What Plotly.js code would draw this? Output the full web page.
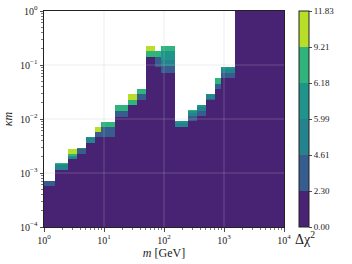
<!DOCTYPE html>
<html><head><meta charset="utf-8">
<script src="https://cdn.plot.ly/plotly-3.0.1.min.js"></script>
<style>html,body{margin:0;padding:0;background:#fff}#chart{width:352px;height:264px}</style>
</head><body><div id="chart"></div>
<script>
// Mass points (GeV)
const masses = [1,2,3,4,6,8,10,20,30,40,60,80,100,200,300,400,600,800,1000,2000,3000,4000,6000,8000,10000];
// Δχ² contour levels and colorbar labels
const levels = [0.00, 2.30, 4.61, 5.99, 6.18, 9.21, 11.83];
const levelLabels = ['0.00','2.30','4.61','5.99','6.18','9.21','11.83'];
// κm at which Δχ² reaches each level, per mass
const km230  = [5.8e-4,1.15e-3,1.82e-3,2.28e-3,3.56e-3,4.56e-3,4.56e-3,1.10e-2,1.82e-2,2.28e-2,0.141,0.091,0.071,7.2e-3,9.0e-3,1.13e-2,2.28e-2,3.6e-2,5.74e-2,1,1,1,1,1,1];
const km461  = [7.0e-4,1.16e-3,1.82e-3,2.82e-3,3.6e-3,5.74e-3,6.98e-3,1.43e-2,1.82e-2,2.88e-2,0.141,0.141,0.094,7.25e-3,1.12e-2,1.43e-2,2.30e-2,4.47e-2,7.2e-2,1,1,1,1,1,1];
const km599  = [7.2e-4,1.40e-3,1.95e-3,2.85e-3,4.4e-3,5.74e-3,6.98e-3,1.43e-2,1.82e-2,2.88e-2,0.141,0.141,0.125,8.5e-3,1.30e-2,1.70e-2,2.75e-2,4.47e-2,8.5e-2,1,1,1,1,1,1];
const km618  = [7.2e-4,1.47e-3,2.03e-3,2.85e-3,4.6e-3,5.74e-3,6.98e-3,1.43e-2,1.82e-2,2.88e-2,0.141,0.141,0.179,9.1e-3,1.39e-2,1.80e-2,2.90e-2,4.47e-2,9.0e-2,1,1,1,1,1,1];
const km921  = [7.2e-4,1.52e-3,2.28e-3,2.85e-3,4.6e-3,5.74e-3,8.73e-3,1.80e-2,2.28e-2,3.60e-2,0.179,0.179,0.223,9.2e-3,1.44e-2,1.82e-2,2.95e-2,5.7e-2,9.1e-2,1,1,1,1,1,1];
const km1183 = [7.2e-4,1.52e-3,2.82e-3,2.85e-3,4.6e-3,6.98e-3,8.73e-3,1.80e-2,2.88e-2,3.60e-2,0.225,0.179,0.223,9.2e-3,1.44e-2,1.82e-2,2.95e-2,5.7e-2,9.1e-2,1,1,1,1,1,1];
const bandColors = ['#482374','#365d8d','#25838e','#20938c','#2fb47c','#b8de29'];

const thresholds = [km230, km461, km599, km618, km921, km1183];
// cell edges
const xEdges = [masses[0] - (masses[1]-masses[0])/2];
for (let i=1;i<masses.length;i++) xEdges.push((masses[i-1]+masses[i])/2);
xEdges.push(masses[masses.length-1] + (masses[masses.length-1]-masses[masses.length-2])/2);
const ySet = new Set([1e-4, 1]);
thresholds.forEach(a => a.forEach(v => { if (v > 1e-4 && v < 1) ySet.add(v); }));
const yEdges = [...ySet].sort((a,b)=>a-b);
const z = [];
for (let j=0;j<yEdges.length-1;j++){
  const yb = yEdges[j];
  z.push(masses.map((m,i) => {
    let band = 0;
    thresholds.forEach(t => { if (t[i] <= yb) band++; });
    return band >= levels.length-1 ? null : band + 0.5;
  }));
}
const nb = levels.length-1;
const cs = [];
bandColors.forEach((c,k) => { cs.push([k/nb, c]); cs.push([(k+1)/nb, c]); });

const minorX = [], minorY = [];
for (let d=0; d<4; d++) for (let k=2;k<10;k++) minorX.push(k*Math.pow(10,d));
for (let d=-4; d<0; d++) for (let k=2;k<10;k++) minorY.push(k*Math.pow(10,d));

const font = {family:'Liberation Serif, DejaVu Serif, serif', size:10, color:'#222'};
const gridShapes = [];
[10,100,1000].forEach(v => gridShapes.push({type:'line', xref:'x', yref:'paper', x0:v, x1:v, y0:0, y1:1, layer:'above', line:{color:'rgba(190,190,190,0.35)', width:0.8}}));
[1e-3,1e-2,1e-1].forEach(v => gridShapes.push({type:'line', xref:'paper', yref:'y', x0:0, x1:1, y0:v, y1:v, layer:'above', line:{color:'rgba(190,190,190,0.35)', width:0.8}}));

const trace = {
  type:'heatmap', x:xEdges, y:yEdges, z:z, zmin:0, zmax:nb, colorscale:cs, zsmooth:false,
  hoverinfo:'skip', xgap:0, ygap:0,
  colorbar:{
    x:1.0625, xanchor:'left', xpad:0, ypad:0, y:0.5, yanchor:'middle', len:1, lenmode:'fraction',
    thickness:10, outlinewidth:1, outlinecolor:'#222',
    tickmode:'array', tickvals:levels.map((v,i)=>i), ticktext:levelLabels,
    ticks:'outside', ticklen:3, tickwidth:0.8, tickcolor:'#222', tickfont:{family:font.family, size:9, color:'#222'}
  }
};
const layout = {
  width:352, height:264,
  margin:{l:44, r:68, t:11, b:37},
  paper_bgcolor:'#fff', plot_bgcolor:'#fff',
  font:font,
  showlegend:false,
  shapes:gridShapes,
  annotations:[{text:'Δχ<sup>2</sup>', xref:'paper', yref:'paper', x:1.0375, y:-0.05, xanchor:'left', yanchor:'middle', showarrow:false,
    font:{family:font.family, size:14, color:'#222'}}],
  xaxis:{type:'log', range:[0,4], showgrid:false, zeroline:false, showline:true, mirror:true, linecolor:'#222', linewidth:1,
    ticks:'outside', ticklen:3.5, tickwidth:0.8, tickcolor:'#222',
    tickmode:'array', tickvals:[1,10,100,1000,10000], ticktext:['10<sup>0</sup>','10<sup>1</sup>','10<sup>2</sup>','10<sup>3</sup>','10<sup>4</sup>'],
    minor:{tickmode:'array', tickvals:minorX, ticks:'outside', ticklen:2, tickwidth:0.6, tickcolor:'#222', showgrid:false},
    title:{text:'<i>m</i> [GeV]', font:{family:font.family, size:12, color:'#222'}, standoff:4}},
  yaxis:{type:'log', range:[-4,0], showgrid:false, zeroline:false, showline:true, mirror:true, linecolor:'#222', linewidth:1,
    ticks:'outside', ticklen:3.5, tickwidth:0.8, tickcolor:'#222',
    tickmode:'array', tickvals:[1e-4,1e-3,1e-2,1e-1,1], ticktext:['10<sup>−4</sup>','10<sup>−3</sup>','10<sup>−2</sup>','10<sup>−1</sup>','10<sup>0</sup>'],
    minor:{tickmode:'array', tickvals:minorY, ticks:'outside', ticklen:2, tickwidth:0.6, tickcolor:'#222', showgrid:false},
    title:{text:'<i>κm</i>', font:{family:font.family, size:12, color:'#222'}, standoff:4}}
};
Plotly.newPlot('chart', [trace], layout, {staticPlot:true, displayModeBar:false});
</script></body></html>
